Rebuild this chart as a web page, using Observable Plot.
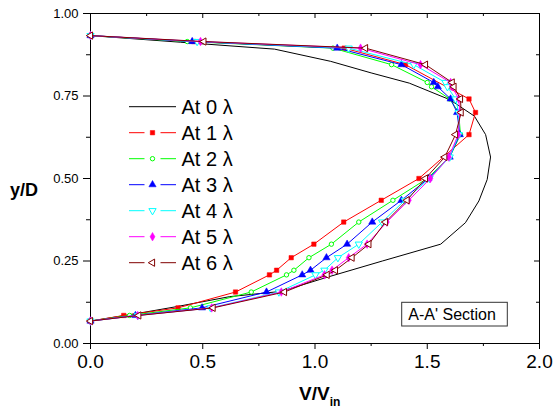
<!DOCTYPE html>
<html>
<head>
<meta charset="utf-8">
<script src="https://cdn.jsdelivr.net/npm/d3@7"></script>
<script src="https://cdn.jsdelivr.net/npm/@observablehq/plot@0.6"></script>
<style>
  html, body { margin: 0; padding: 0; background: white; }
</style>
</head>
<body>
<div id="chart"></div>
<script>
// ---- data ----
const xTicks = [0, 0.5, 1.0, 1.5, 2.0];
const xMinor = [0.25, 0.75, 1.25, 1.75];
const yTicks = [0, 0.25, 0.5, 0.75, 1.0];
const yMinor = [0.125, 0.375, 0.625, 0.875];

// At 0 λ (inlet profile, line only)
const v0 = [0, 0.40, 0.82, 1.07, 1.25, 1.42, 1.60, 1.71, 1.76, 1.782, 1.767, 1.73, 1.67, 1.56, 1.30, 1.05, 0.85, 0.62, 0.386, 0.20, 0];
const y0 = [0.933, 0.913, 0.892, 0.855, 0.820, 0.789, 0.739, 0.689, 0.633, 0.565, 0.497, 0.432, 0.366, 0.301, 0.250, 0.200, 0.158, 0.142, 0.112, 0.090, 0.068];

// measurement levels (y/D) for the other stations
const yLevels = [0.933, 0.915, 0.895, 0.845, 0.791, 0.778, 0.741, 0.700, 0.633, 0.565, 0.500, 0.434, 0.368, 0.301, 0.260, 0.222, 0.208, 0.156, 0.108, 0.085, 0.068];
const v1 = [0, 0.46, 1.13, 1.403, null, null, 1.686, 1.715, 1.686, null, 1.463, 1.295, 1.128, 0.995, 0.894, 0.829, 0.797, 0.646, 0.390, 0.148, 0];
const v2 = [0, 0.431, 1.08, 1.341, 1.50, 1.519, 1.60, 1.64, 1.648, 1.60, 1.50, 1.347, 1.195, 1.073, 0.973, 0.906, 0.873, 0.716, 0.445, 0.174, 0];
const v3 = [0, 0.453, 1.099, 1.385, 1.529, 1.547, 1.604, 1.633, 1.645, 1.60, 1.505, 1.385, 1.255, 1.143, 1.051, 0.980, 0.943, 0.784, 0.497, 0.200, 0];
const v4 = [0, 0.475, 1.15, 1.44, 1.581, 1.59, 1.626, 1.64, 1.64, 1.60, 1.51, 1.40, 1.299, 1.195, 1.102, 1.042, 1.002, 0.839, 0.535, 0.211, 0];
const v5 = [0, 0.490, 1.203, 1.470, 1.604, 1.611, 1.64, 1.645, 1.638, 1.596, 1.514, 1.418, 1.32, 1.232, 1.150, 1.076, 1.042, 0.85, 0.54, 0.21, 0];
const v6 = [0, 0.505, 1.225, 1.492, 1.611, 1.619, 1.648, 1.651, 1.626, 1.578, 1.492, 1.410, 1.314, 1.240, 1.165, 1.091, 1.054, 0.864, 0.546, 0.215, 0];

const seriesNames = ["At 0 λ", "At 1 λ", "At 2 λ", "At 3 λ", "At 4 λ", "At 5 λ", "At 6 λ"];
const seriesColors = ["#000000", "#ff0000", "#00ff00", "#0000ff", "#00ffff", "#ff00ff", "#800000"];

// ---- symbols ----
function triArea(size) { const a = Math.sqrt(4 * size / Math.sqrt(3)); return [a, a * Math.sqrt(3) / 2]; }
const symDown = { draw(ctx, size) { const [a, h] = triArea(size); ctx.moveTo(0, 2*h/3); ctx.lineTo(-a/2, -h/3); ctx.lineTo(a/2, -h/3); ctx.closePath(); } };
const symLeft = { draw(ctx, size) { const [a, h] = triArea(size); ctx.moveTo(-2*h/3, 0); ctx.lineTo(h/3, -a/2); ctx.lineTo(h/3, a/2); ctx.closePath(); } };
const symUp = { draw(ctx, size) { const [a, h] = triArea(size); ctx.moveTo(0, -2*h/3); ctx.lineTo(a/2, h/3); ctx.lineTo(-a/2, h/3); ctx.closePath(); } };
const seriesSymbols = [null, d3.symbolSquare, d3.symbolCircle, symUp, symDown, d3.symbolDiamond, symLeft];
const seriesFilled = [true, true, false, true, false, true, false];
const seriesR = [0, 2.5, 2.2, 2.7, 2.7, 2.6, 2.7];

// ---- build tables ----
const black = v0.map((v, i) => ({v, y: y0[i]}));
const stations = [v1, v2, v3, v4, v5, v6].map((vals, k) =>
  vals.map((v, i) => ({v, y: yLevels[i], s: seriesNames[k + 1]})).filter(d => d.v != null));

const W = 554, H = 410, ML = 90, MR = 15, MT = 13, MB = 67;
const innerW = W - ML - MR, innerH = H - MT - MB;

const marks = [
  Plot.frame({stroke: "black", strokeWidth: 1}),
  Plot.axisX(xTicks, {tickSize: 6, tickPadding: 5, fontSize: 19, tickFormat: d3.format(".1f"), label: null}),
  Plot.axisX(xMinor, {tickSize: 3, tickFormat: () => "", label: null}),
  Plot.axisY(yTicks, {tickSize: 7, tickPadding: 5, fontSize: 13, tickFormat: d3.format(".2f"), label: null}),
  Plot.axisY(yMinor, {tickSize: 4, tickFormat: () => "", label: null}),
  // mirrored inward ticks (top / right)
  Plot.tickX(xTicks, {x: d => d, insetBottom: innerH - 5, stroke: "black"}),
  Plot.tickX(xMinor, {x: d => d, insetBottom: innerH - 3, stroke: "black"}),
  Plot.tickY(yTicks, {y: d => d, insetLeft: innerW - 5, stroke: "black"}),
  Plot.tickY(yMinor, {y: d => d, insetLeft: innerW - 3, stroke: "black"}),
  Plot.line(black, {x: "v", y: "y", stroke: "black", strokeWidth: 1})
];
stations.forEach((rows, k) => {
  const c = seriesColors[k + 1];
  marks.push(Plot.line(rows, {x: "v", y: "y", stroke: c, strokeWidth: 1}));
  marks.push(Plot.dot(rows, {
    x: "v", y: "y", symbol: seriesSymbols[k + 1], r: seriesR[k + 1],
    fill: seriesFilled[k + 1] ? c : "white", stroke: c, strokeWidth: seriesFilled[k + 1] ? 0.5 : 1
  }));
});

const chart = Plot.plot({
  width: W, height: H,
  marginLeft: ML, marginRight: MR, marginTop: MT, marginBottom: MB,
  style: {fontFamily: "'Liberation Sans', Arial, sans-serif", background: "white", color: "black", overflow: "visible"},
  x: {domain: [0, 2], label: null},
  y: {domain: [0, 1], label: null},
  marks
});
document.getElementById("chart").appendChild(chart);

// ---- annotations: axis titles, legend, section box ----
const svg = d3.select(chart);
const font = "'Liberation Sans', Arial, sans-serif";
const ann = svg.append("g").attr("text-anchor", "start").attr("font-family", font).attr("fill", "black");

ann.append("text").attr("x", 10).attr("y", 196).attr("text-anchor", "start")
  .attr("font-size", 18).attr("font-weight", "bold")
  .text("y/D");

const xl = ann.append("text").attr("x", 299).attr("y", 399.5).attr("text-anchor", "start")
  .attr("font-size", 19).attr("font-weight", "bold");
xl.append("tspan").text("V/V");
xl.append("tspan").attr("font-size", 12).attr("dy", 6.5).text("in");

const lg = ann.append("g");
seriesNames.forEach((name, i) => {
  const cy = 106.7 + i * 26;
  const c = seriesColors[i];
  if (i === 0) {
    lg.append("line").attr("x1", 129).attr("x2", 176).attr("y1", cy).attr("y2", cy).attr("stroke", c);
  } else {
    lg.append("line").attr("x1", 129).attr("x2", 144.5).attr("y1", cy).attr("y2", cy).attr("stroke", c);
    lg.append("line").attr("x1", 160.5).attr("x2", 176).attr("y1", cy).attr("y2", cy).attr("stroke", c);
    const r = seriesR[i];
    lg.append("path")
      .attr("d", d3.symbol().type(seriesSymbols[i]).size(Math.PI * r * r)())
      .attr("transform", `translate(152.5,${cy})`)
      .attr("fill", seriesFilled[i] ? c : "white").attr("stroke", c)
      .attr("stroke-width", seriesFilled[i] ? 0.5 : 1);
  }
  lg.append("text").attr("x", 181.5).attr("y", cy + 7.3).attr("text-anchor", "start")
    .attr("font-size", 20).text(name);
});

ann.append("rect").attr("x", 401.7).attr("y", 302.3).attr("width", 105.6).attr("height", 23.7)
  .attr("fill", "white").attr("stroke", "#333").attr("stroke-width", 1);
ann.append("text").attr("x", 408.3).attr("y", 320).attr("text-anchor", "start")
  .attr("font-size", 16).text("A-A' Section");
</script>
</body>
</html>
